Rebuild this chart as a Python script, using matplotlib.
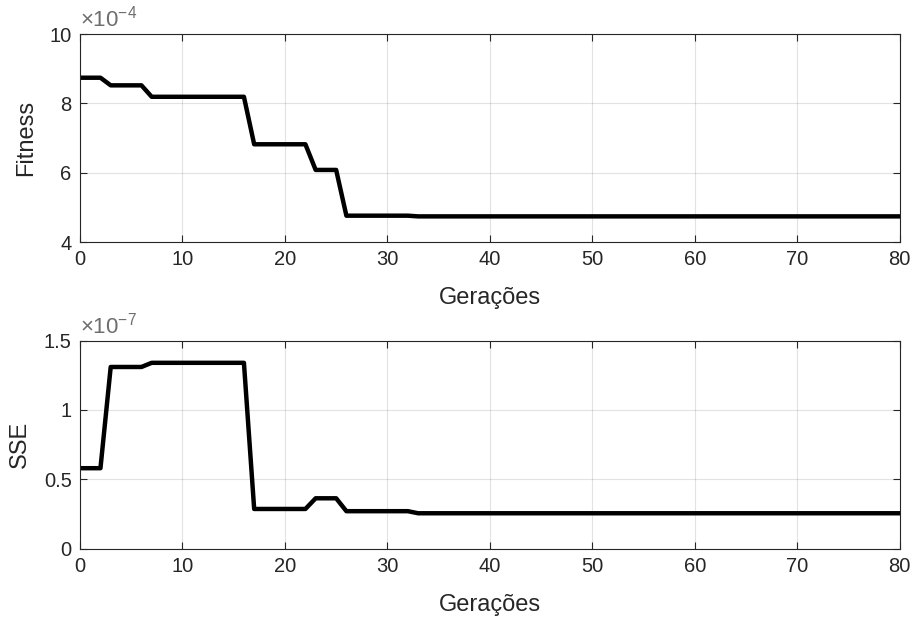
import matplotlib
matplotlib.use("Agg")
import matplotlib.pyplot as plt
import numpy as np

plt.rcParams['font.family'] = ['Liberation Sans', 'DejaVu Sans']
plt.rcParams['mathtext.fontset'] = 'custom'
plt.rcParams['mathtext.rm'] = 'Liberation Sans'

generations = list(range(0, 81))
fitness = ([8.74e-4] * 3 + [8.52e-4] * 4 + [8.19e-4] * 10 + [6.82e-4] * 6 +
           [6.08e-4] * 3 + [4.76e-4] * 7 + [4.74e-4] * 48)
sse = ([0.58e-7] * 3 + [1.31e-7] * 4 + [1.34e-7] * 10 + [0.286e-7] * 6 +
       [0.363e-7] * 3 + [0.27e-7] * 7 + [0.255e-7] * 48)

x_ticks = [0, 10, 20, 30, 40, 50, 60, 70, 80]
fit_ticks = [4, 6, 8, 10]
sse_ticks = [0, 0.5, 1, 1.5]

TXT = '#262626'
fig = plt.figure(figsize=(9.17, 6.19), dpi=100)

def style(ax, yticks, ylim, ylabel, yfmt, exp):
    ax.set_xlim(0, 80)
    ax.set_ylim(*ylim)
    ax.set_xticks(x_ticks)
    ax.set_yticks(yticks)
    ax.set_yticklabels([yfmt(v) for v in yticks])
    ax.tick_params(direction='in', top=True, right=True, colors=TXT,
                   labelsize=14.5, length=5, width=0.8, pad=6)
    for s in ax.spines.values():
        s.set_color(TXT)
        s.set_linewidth(0.8)
    ax.grid(True, color='#262626', alpha=0.13, linewidth=0.8)
    ax.set_axisbelow(True)
    ax.set_xlabel('Gerações', fontsize=17, color=TXT, labelpad=13)
    ax.set_ylabel(ylabel, fontsize=17, color=TXT, labelpad=9)
    ax.text(0.0, 1.01, r'$\times\mathregular{10^{-%d}}$' % exp, transform=ax.transAxes,
            fontsize=16, color='#6e6e6e', ha='left', va='bottom')

ax1 = fig.add_axes([0.0872, 0.609, 0.894, 0.336])
ax1.plot(generations, np.array(fitness) / 1e-4, color='black', lw=3.2)
style(ax1, fit_ticks, (4, 10), 'Fitness', lambda v: '%d' % v, 4)

ax2 = fig.add_axes([0.0872, 0.1137, 0.894, 0.336])
ax2.plot(generations, np.array(sse) / 1e-7, color='black', lw=3.2)
style(ax2, sse_ticks, (0, 1.5), 'SSE', lambda v: ('%g' % v), 7)

fig.savefig('out.png', dpi=100)
